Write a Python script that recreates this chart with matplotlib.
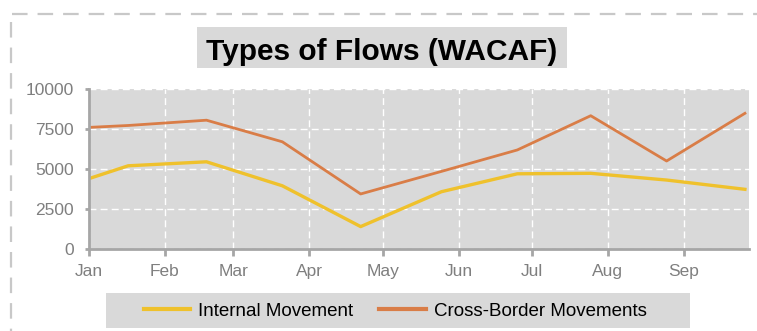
import numpy as np
import matplotlib
matplotlib.use('Agg')
import matplotlib.pyplot as plt
import matplotlib.dates as mdates
from matplotlib.patches import Rectangle
from matplotlib.lines import Line2D
import pandas as pd

# Dados
datas = ['2023-01-01', '2023-01-17', '2023-02-18', '2023-03-21', '2023-04-22',
         '2023-05-25', '2023-06-25', '2023-07-25', '2023-08-25', '2023-09-26']
interno = [4400, 5200, 5450, 3950, 1400, 3580, 4700, 4730, 4310, 3730]
fronteira = [7600, 7720, 8050, 6700, 3440, 4850, 6190, 8330, 5500, 8480]
y_ticks = [0, 2500, 5000, 7500, 10000]
meses = ['Jan', 'Feb', 'Mar', 'Apr', 'May', 'Jun', 'Jul', 'Aug', 'Sep']

x = pd.to_datetime(datas)
plt.rcParams['font.family'] = ['Liberation Sans', 'DejaVu Sans']

W, H = 757, 331
fig = plt.figure(figsize=(W / 100, H / 100), dpi=100)

def fx(px):
    return px / W

def fy(py):
    return 1 - py / H

# moldura tracejada externa
fig.add_artist(Line2D([fx(12), fx(757)], [fy(14), fy(14)], color='#c8c8c8', lw=1.6,
                      linestyle=(0, (7, 4.5))))
fig.add_artist(Line2D([fx(11), fx(11)], [fy(22), fy(331)], color='#c8c8c8', lw=1.6,
                      linestyle=(0, (7, 4.5))))

# título com caixa cinza
fig.add_artist(Rectangle((fx(197), fy(68)), fx(567) - fx(197), fy(27) - fy(68),
                         facecolor='#d9d9d9', edgecolor='none', transform=fig.transFigure))
fig.text(fx(382), fy(60), 'Types of Flows (WACAF)', ha='center', va='baseline',
         fontsize=21.5, fontweight='bold', color='black')

ax = fig.add_axes([fx(89), fy(249), fx(749) - fx(89), fy(89) - fy(249)])
ax.set_facecolor('#d9d9d9')

ax.plot(x, interno, color='#efc12c', lw=2.4, label='Internal Movement', solid_joinstyle='round')
ax.plot(x, fronteira, color='#d97d47', lw=2.0, label='Cross-Border Movements', solid_joinstyle='round')

ax.set_xlim(pd.Timestamp('2023-01-01'), pd.Timestamp('2023-09-27 16:00'))
ax.set_ylim(0, 10000)
ax.set_yticks(y_ticks)
ax.set_yticklabels([str(v) for v in y_ticks])
ax.xaxis.set_major_locator(mdates.MonthLocator())
ax.xaxis.set_major_formatter(mdates.DateFormatter('%b'))

ax.grid(True, color='white', linestyle=(0, (5, 3)), lw=1.0)
ax.set_axisbelow(True)
for s in ['top', 'right']:
    ax.spines[s].set_visible(False)
for s in ['left', 'bottom']:
    ax.spines[s].set_color('#a6a6a6')
    ax.spines[s].set_linewidth(2.0)
ax.tick_params(axis='both', colors='#a6a6a6', labelcolor='#7f7f7f', labelsize=12.5,
               width=2)
ax.tick_params(axis='x', length=5, pad=5.5)
ax.tick_params(axis='y', length=3, pad=8)

# legenda com caixa cinza
fig.add_artist(Rectangle((fx(106), fy(328)), fx(690) - fx(106), fy(293) - fy(328),
                         facecolor='#d9d9d9', edgecolor='none', transform=fig.transFigure))
fig.legend(loc='center', bbox_to_anchor=(fx(395), fy(311)), ncol=2, frameon=False,
           fontsize=13.5, handlelength=2.5, handletextpad=0.4, columnspacing=1.4,
           borderpad=0, borderaxespad=0)
for line in fig.legends[0].get_lines():
    line.set_linewidth(3.0)

plt.savefig('out.png', dpi=100)
plt.close()
